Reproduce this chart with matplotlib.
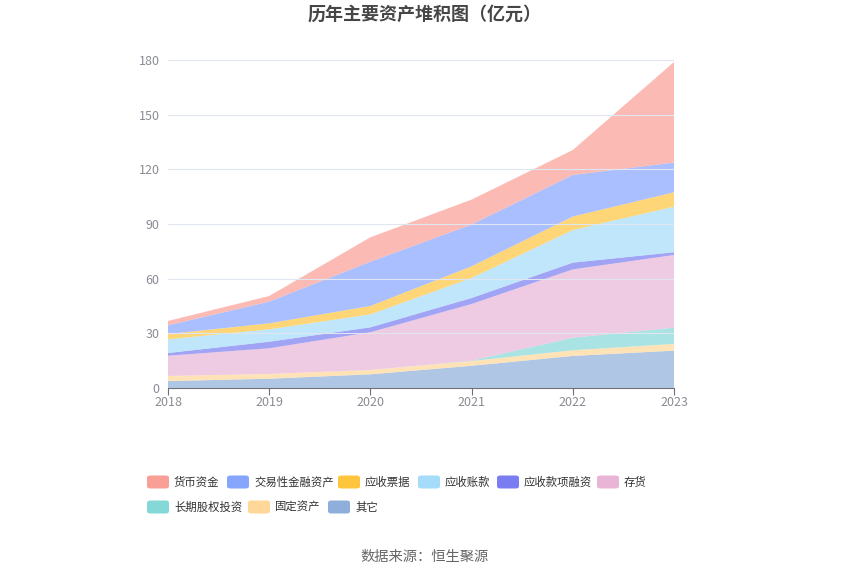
import matplotlib.pyplot as plt
from matplotlib.patches import FancyBboxPatch
import numpy as np

plt.rcParams['font.family'] = ['Noto Sans CJK SC', 'DejaVu Sans']

# data (亿元)
years = [2018, 2019, 2020, 2021, 2022, 2023]
other     = [3.8, 5.1, 7.5, 12.2, 17.6, 20.5]   # 其它
fixed     = [2.8, 2.6, 2.4, 2.6, 3.1, 3.7]      # 固定资产
lt_equity = [0.0, 0.0, 0.0, 0.2, 6.9, 8.9]      # 长期股权投资
inventory = [11.1, 14.1, 20.7, 31.1, 37.5, 39.9]  # 存货
recv_fin  = [1.5, 3.6, 2.7, 3.3, 3.7, 1.5]      # 应收款项融资
accounts  = [7.5, 6.8, 7.1, 11.0, 17.9, 25.0]   # 应收账款
notes     = [2.9, 3.3, 4.6, 6.4, 7.4, 7.9]      # 应收票据
trading   = [4.8, 11.9, 24.3, 22.9, 22.8, 16.3] # 交易性金融资产
cash      = [2.4, 3.1, 13.4, 13.7, 13.7, 55.2]  # 货币资金

# stacked bottom -> top
stack_names = ['其它', '固定资产', '长期股权投资', '存货', '应收款项融资',
               '应收账款', '应收票据', '交易性金融资产', '货币资金']
stack_vals = [other, fixed, lt_equity, inventory, recv_fin,
              accounts, notes, trading, cash]
stack_cols = ['#8eaedb', '#ffd899', '#85d8d8', '#e8b5d7', '#7a7df2',
              '#a5dcfa', '#ffc53d', '#85a5ff', '#fa9f95']

fig = plt.figure(figsize=(8.5, 5.74), dpi=100)
ax = fig.add_axes([168/850, 1-388/574, (674-168)/850, (388-60)/574])

ax.stackplot(years, *stack_vals, colors=stack_cols, alpha=0.7, linewidth=0)

ax.set_xlim(2018, 2023)
ax.set_ylim(0, 180)
ax.set_yticks(range(0, 181, 30))
ax.set_xticks(years)
ax.grid(axis='y', color='#e0e6f1', linewidth=0.8)
ax.set_axisbelow(False)
for s in ['top', 'right', 'left']:
    ax.spines[s].set_visible(False)
ax.spines['bottom'].set_color('#6e7079')
ax.tick_params(axis='y', length=0, labelcolor='#8a8c94', labelsize=9, pad=6)
ax.tick_params(axis='x', length=5, color='#6e7079', labelcolor='#8a8c94', labelsize=9, pad=1)

fig.text(0.5, 1-14/574, '历年主要资产堆积图（亿元）', ha='center', va='center',
         fontsize=13, fontweight='bold', color='#464646')

# legend, laid out by hand like the original
col_of = dict(zip(stack_names, stack_cols))
rows = [(482, [(147, '货币资金'), (227, '交易性金融资产'), (338, '应收票据'),
               (418, '应收账款'), (497, '应收款项融资'), (597, '存货')]),
        (507, [(147, '长期股权投资'), (248, '固定资产'), (328, '其它')])]
for yy, items in rows:
    for xx, name in items:
        box = FancyBboxPatch((xx/850, 1-(yy+6.5)/574), 22/850, 13/574,
                             boxstyle='round,pad=0,rounding_size=0.004',
                             transform=fig.transFigure, color=col_of[name],
                             linewidth=0)
        fig.patches.append(box)
        fig.text((xx+27)/850, 1-yy/574, name, ha='left', va='center',
                 fontsize=8.2, color='#333333')

fig.text(0.5, 1-557/574, '数据来源：恒生聚源', ha='center', va='center',
         fontsize=10.3, color='#666666')

fig.savefig('out.png', dpi=100)
